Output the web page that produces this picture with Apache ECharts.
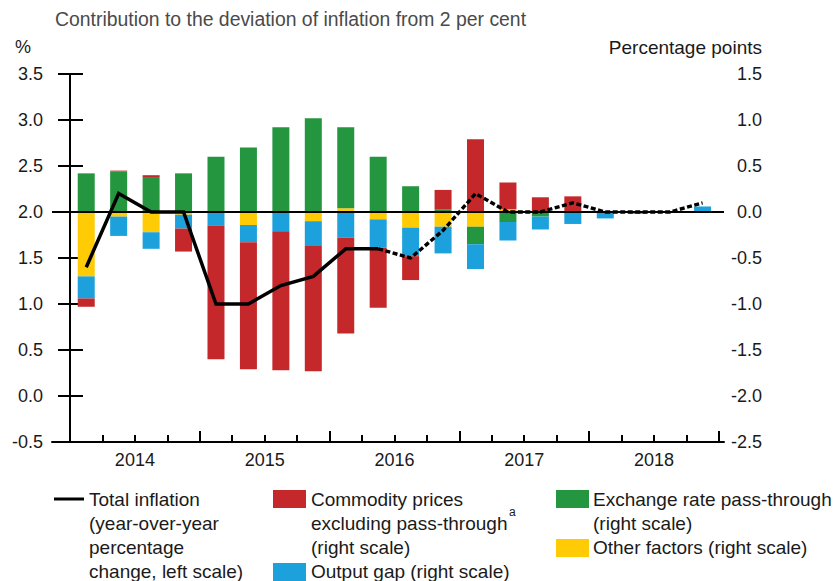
<!DOCTYPE html>
<html>
<head>
<meta charset="utf-8">
<script src="https://cdn.jsdelivr.net/npm/echarts@6/dist/echarts.min.js"></script>
<style>
html,body{margin:0;padding:0;background:#fff;}
#chart{width:839px;height:581px;}
</style>
</head>
<body>
<div id="chart"></div>
<script>
// ---- Data (quarterly, 2014Q1 .. 2018Q4) ----
const years = ['2014', '2015', '2016', '2017', '2018'];
const quarterIndex = [0,1,2,3,4,5,6,7,8,9,10,11,12,13,14,15,16,17,18,19];
// Total inflation (y/y %, left scale); history to index 9, projection after
const inflation = [1.4, 2.2, 2.0, 2.0, 1.0, 1.0, 1.2, 1.3, 1.6, 1.6, 1.5, 1.8, 2.2, 2.0, 2.0, 2.1, 2.0, 2.0, 2.0, 2.1];
const lastHistorical = 9;
// Contributions (percentage points, right scale)
const commodity = [-0.09, 0.01, 0.02, -0.25, -1.45, -1.38, -1.51, -1.36, -1.04, -0.65, -0.26, 0.21, 0.79, 0.29, 0.16, 0.16, 0, 0, 0, 0];
const exchange  = [0.42, 0.44, 0.38, 0.42, 0.59, 0.70, 0.92, 1.02, 0.88, 0.60, 0.28, 0.03, -0.19, -0.11, -0.05, -0.02, 0, 0, 0, 0];
const other     = [-0.70, -0.05, -0.22, -0.03, 0.01, -0.14, 0, -0.10, 0.04, -0.08, -0.17, -0.16, -0.16, 0.03, 0, 0.01, 0.01, 0, 0, 0];
const outputGap = [-0.24, -0.21, -0.18, -0.15, -0.15, -0.19, -0.21, -0.27, -0.28, -0.31, -0.31, -0.29, -0.27, -0.20, -0.14, -0.11, -0.07, -0.02, 0.01, 0.06];
const leftTicks = [-0.5, 3.5, 0.5];   // min, max, interval
const rightTicks = [-2.5, 1.5, 0.5];

const C_RED = '#C4282A', C_GREEN = '#23963F', C_YELLOW = '#FFCB05', C_BLUE = '#1CA1DC';
const FONT = '"Liberation Sans", Arial, Helvetica, sans-serif';

const XMIN = -0.555, XMAX = 20.16;
const quarterTicks = [];
for (let i = 0; i <= quarterIndex.length; i++) quarterTicks.push(i);
const yearTicks = years.map((y, i) => i * 4).concat([years.length * 4]);
const yearCenters = years.map((y, i) => i * 4 + 2);

// value first, position second, so the stacked dimension is the value
const barPts = arr => quarterIndex.map(i => [arr[i], i + 0.5]);
const solidData = quarterIndex.filter(i => i <= lastHistorical).map(i => [i + 0.5, inflation[i]]);
const dashData = quarterIndex.filter(i => i >= lastHistorical).map(i => [i + 0.5, inflation[i]]);

function barSeries(name, arr, color) {
  return {
    name, type: 'bar', xAxisIndex: 0, yAxisIndex: 1, stack: 'contrib',
    encode: { x: 1, y: 0 },
    barWidth: 17, data: barPts(arr), itemStyle: { color }, silent: true
  };
}

const chart = echarts.init(document.getElementById('chart'), null, { renderer: 'svg' });

const txt = (x, y, text, size, extra) => Object.assign({
  type: 'text', x, y,
  style: Object.assign({ text, fontSize: size, fontFamily: FONT, fill: '#1a1a1a', textVerticalAlign: 'middle' }, extra || {})
});
const LG = 19, LH = 24.3;

chart.setOption({
  animation: false,
  backgroundColor: '#fff',
  grid: { left: 52, right: 115, top: 74, bottom: 139 },
  xAxis: [
    {
      type: 'value', min: XMIN, max: XMAX, position: 'bottom',
      axisLine: { onZero: false, lineStyle: { color: '#000', width: 2 } },
      axisTick: { inside: true, length: 7, customValues: quarterTicks, lineStyle: { color: '#000', width: 2 } },
      axisLabel: { customValues: yearCenters, formatter: v => years[Math.floor(v / 4)] || '', fontSize: 18, fontFamily: FONT, color: '#1a1a1a', margin: 9 },
      splitLine: { show: false }
    },
    {
      type: 'value', min: XMIN, max: XMAX, position: 'bottom',
      axisLine: { show: false, onZero: false },
      axisTick: { inside: true, length: 11, customValues: yearTicks, lineStyle: { color: '#000', width: 2 } },
      axisLabel: { show: false },
      splitLine: { show: false }
    }
  ],
  yAxis: [
    {
      type: 'value', position: 'left', min: leftTicks[0], max: leftTicks[1], interval: leftTicks[2],
      axisLine: { show: true, lineStyle: { color: '#000', width: 2 } },
      axisTick: { show: true, inside: true, length: 13, lineStyle: { color: '#000', width: 2 } },
      axisLabel: { formatter: v => v.toFixed(1), fontSize: 18, fontFamily: FONT, color: '#1a1a1a', margin: 9 },
      splitLine: { show: false }
    },
    {
      type: 'value', position: 'right', min: rightTicks[0], max: rightTicks[1], interval: rightTicks[2],
      axisLine: { show: true, lineStyle: { color: '#000', width: 2 } },
      axisTick: { show: true, inside: true, length: 12, lineStyle: { color: '#000', width: 2 } },
      axisLabel: { formatter: v => v.toFixed(1), fontSize: 18, fontFamily: FONT, color: '#1a1a1a', margin: 38, align: 'right' },
      splitLine: { show: false }
    }
  ],
  series: [
    barSeries('Other factors', other, C_YELLOW),
    barSeries('Exchange rate pass-through', exchange, C_GREEN),
    barSeries('Output gap', outputGap, C_BLUE),
    barSeries('Commodity prices excluding pass-through', commodity, C_RED),
    {
      name: 'Total inflation', type: 'line', xAxisIndex: 0, yAxisIndex: 0, data: solidData,
      symbol: 'none', silent: true, z: 5,
      lineStyle: { color: '#000', width: 3.5, join: 'miter' },
      markLine: {
        silent: true, symbol: ['none', 'none'], label: { show: false },
        lineStyle: { color: '#000', width: 2, type: 'solid' },
        data: [{ yAxis: 2 }]
      }
    },
    {
      name: 'Total inflation (projection)', type: 'line', xAxisIndex: 0, yAxisIndex: 0, data: dashData,
      symbol: 'none', silent: true, z: 6,
      lineStyle: { color: '#000', width: 3.4, type: [5, 2.5] }
    }
  ],
  graphic: [
    txt(55, 19, 'Contribution to the deviation of inflation from 2 per cent', 19.4, { fill: '#4a4a4a' }),
    txt(15, 47, '%', 18),
    txt(762, 47, 'Percentage points', 19, { textAlign: 'right' }),
    // legend column 1
    { type: 'line', shape: { x1: 54, y1: 499, x2: 84, y2: 499 }, style: { stroke: '#000', lineWidth: 3 } },
    txt(89, 499, 'Total inflation', LG),
    txt(89, 499 + LH, '(year-over-year', LG),
    txt(89, 499 + 2 * LH, 'percentage', LG),
    txt(89, 499 + 3 * LH, 'change, left scale)', LG),
    // legend column 2
    { type: 'rect', shape: { x: 273, y: 490, width: 33, height: 18 }, style: { fill: C_RED } },
    txt(311, 499, 'Commodity prices', LG),
    txt(311, 499 + LH, 'excluding pass-through', LG),
    txt(509, 512, 'a', 12),
    txt(311, 499 + 2 * LH, '(right scale)', LG),
    { type: 'rect', shape: { x: 273, y: 563, width: 33, height: 18 }, style: { fill: C_BLUE } },
    txt(311, 499 + 3 * LH, 'Output gap (right scale)', LG),
    // legend column 3
    { type: 'rect', shape: { x: 556, y: 490, width: 33, height: 18 }, style: { fill: C_GREEN } },
    txt(593, 499, 'Exchange rate pass-through', LG),
    txt(593, 499 + LH, '(right scale)', LG),
    { type: 'rect', shape: { x: 556, y: 539, width: 33, height: 18 }, style: { fill: C_YELLOW } },
    txt(593, 499 + 2 * LH, 'Other factors (right scale)', LG)
  ]
});
</script>
</body>
</html>
